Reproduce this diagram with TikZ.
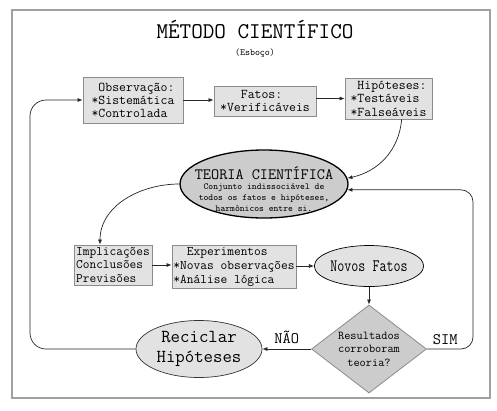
\documentclass[tikz,border=0pt]{standalone}
\renewcommand*{\familydefault}{\ttdefault}
\usetikzlibrary{shapes.geometric,arrows.meta,calc}
\definecolor{boxfill}{HTML}{E2E2E2}
\definecolor{boxline}{HTML}{8C8C8C}
\definecolor{darkfill}{HTML}{CCCCCC}
\definecolor{framecol}{HTML}{A0A0A0}
\tikzset{
  sbox/.style={draw=boxline, fill=boxfill, line width=0.8pt, inner sep=0pt, font=\ttfamily\fontsize{13.4}{13}\selectfont},
  arr/.style={-{Latex[length=5pt,width=4pt]}, line width=0.7pt, draw=black!85},
  lbl/.style={inner sep=0pt, font=\ttfamily\fontsize{16}{16}\selectfont}
}
\begin{document}
\begin{tikzpicture}[x=1pt,y=-1pt]
\useasboundingbox (0,0) rectangle (497,410);
\fill[white] (0,0) rectangle (497,410);
\draw[framecol, line width=2pt] (12,10) rectangle (490,398);

\node[inner sep=0pt, font=\ttfamily\fontsize{22.5}{24}\selectfont] (title) at (255,30) {MÉTODO CIENTÍFICO};
\node[inner sep=0pt, font=\ttfamily\fontsize{9.5}{10}\selectfont] (sub) at (255,53) {(Esboço)};

\node[sbox, minimum width=100pt, minimum height=46pt, align=left] (obs) at (133,100) {\hphantom{x}Observação:\\*Sistemática\\*Controlada};
\node[sbox, minimum width=102pt, minimum height=30pt, align=left] (fatos) at (265,101) {\hphantom{xxx}Fatos:\\*Verificáveis};
\node[sbox, minimum width=87pt, minimum height=41pt, align=left, font=\ttfamily\fontsize{13.4}{13.5}\selectfont] (hip) at (388.5,98.5) {\hphantom{x}Hipóteses:\\*Testáveis\\*Falseáveis};

\node[ellipse, draw=black, line width=1.3pt, fill=darkfill, minimum width=168pt, minimum height=68pt, inner sep=0pt] (teoria) at (264,184) {};
\node[inner sep=0pt, align=center, font=\ttfamily\fontsize{9.2}{11}\selectfont] (teoriatxt) at (264,189) {\fontsize{15.8}{15}\selectfont TEORIA CIENTÍFICA\\[-1pt]\fontsize{9.2}{11}\selectfont Conjunto indissociável de\\todos os fatos e hipóteses,\\harmônicos entre si.};

\node[sbox, minimum width=78pt, minimum height=40pt, align=left, font=\ttfamily\fontsize{13}{13.5}\selectfont] (impl) at (113,265) {Implicações\\Conclusões\\Previsões};
\node[sbox, minimum width=124pt, minimum height=43pt, align=left, font=\ttfamily\fontsize{13.1}{14}\selectfont] (exp) at (234,266.5) {\hphantom{xx}Experimentos\\*Novas observações\\*Análise lógica};
\node[ellipse, draw=black, line width=0.7pt, fill=boxfill, minimum width=98pt, minimum height=41pt, inner sep=0pt, font=\ttfamily\fontsize{17.5}{17}\selectfont] (novos) at (369,266) {\scalebox{0.78}[1]{Novos Fatos}};

\node[diamond, draw=boxline, line width=0.8pt, fill=darkfill, minimum width=115pt, minimum height=88pt, aspect=1.3, inner sep=0pt, align=center, font=\ttfamily\fontsize{12}{13.5}\selectfont] (diam) at (369,349) {Resultados\\corroboram\\teoria?};
\node[ellipse, draw=black!80, line width=0.7pt, fill=boxfill, minimum width=126pt, minimum height=57pt, inner sep=0pt, align=center, font=\ttfamily\fontsize{18.3}{20}\selectfont] (recic) at (199,349) {Reciclar\\Hipóteses};

\coordinate (rx) at (473,0);
\coordinate (lx) at (30,0);

\draw[arr] (obs.east) -- (obs.east -| fatos.west);
\draw[arr] (fatos.east |- hip.west) -- (hip.west);
\draw[arr] ($(hip.south west)!0.65!(hip.south east)$) to[out=-95,in=12] (teoria.4);
\draw[arr] (teoria.west) to[out=180,in=90] ($(impl.north)+(-13,0)$);
\draw[arr] (impl.east) -- (impl.east -| exp.west);
\draw[arr] (exp.east |- novos.west) -- (novos.west);
\draw[arr] (novos.south) -- (diam.north);
\draw[arr] (diam.west) -- node[lbl, above=5pt] (nao) {NÃO} (recic.east);
\draw[arr, rounded corners=12pt] (diam.east) -- node[lbl, above=4pt, pos=0.4] (sim) {SIM} (diam.east -| rx) -- (teoria.356 -| rx) -- (teoria.356);
\draw[arr, rounded corners=16pt] (recic.west) -- (recic.west -| lx) -- (obs.west -| lx) -- (obs.west);
\end{tikzpicture}
\end{document}
